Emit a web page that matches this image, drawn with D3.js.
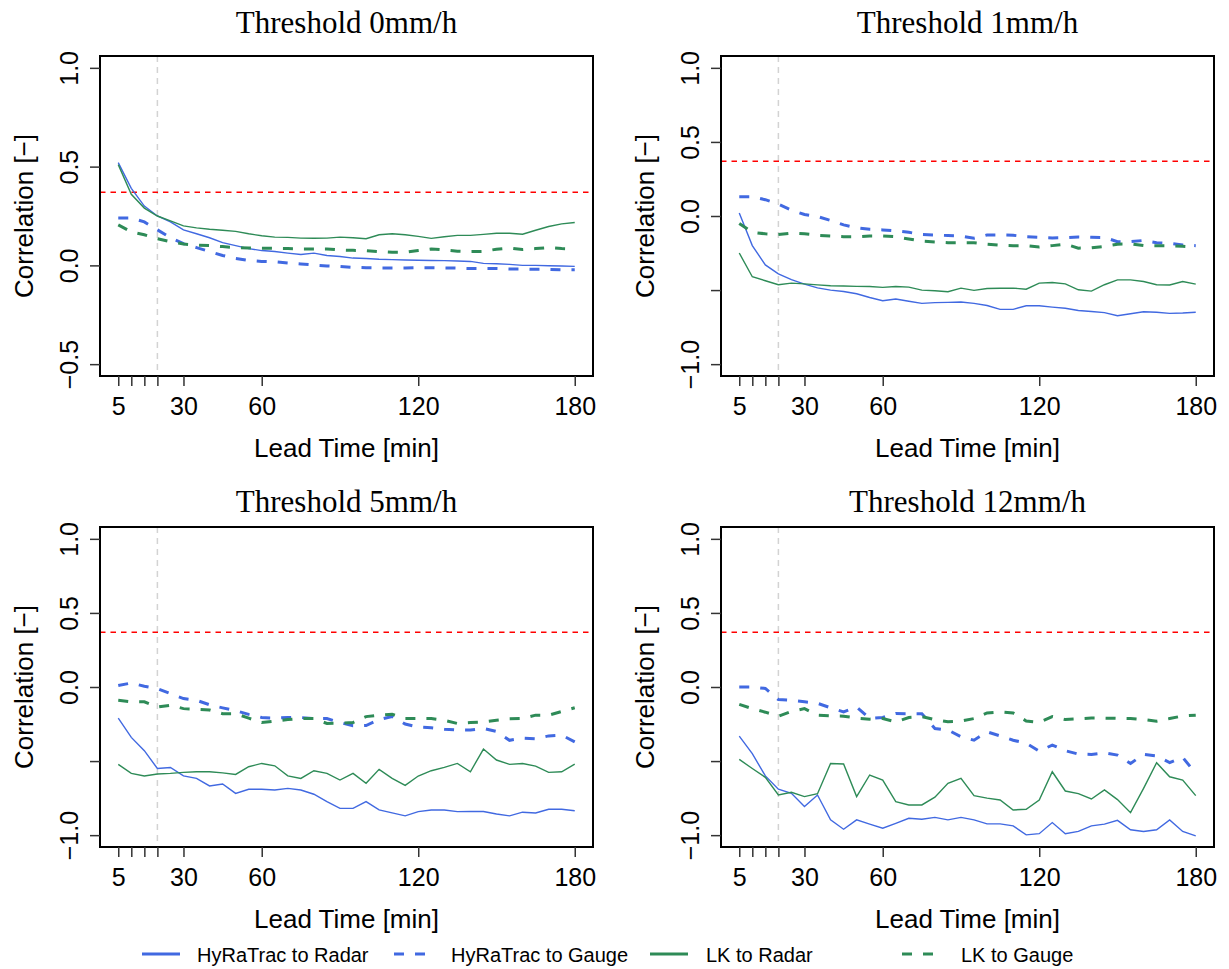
<!DOCTYPE html>
<html>
<head>
<meta charset="utf-8">
<script src="https://cdn.jsdelivr.net/npm/d3@7"></script>
<style>
body { margin: 0; background: #fff; }
svg text { font-family: "Liberation Sans", Arial, sans-serif; fill: #000; }
</style>
</head>
<body>
<div id="chart"></div>
<script>
let w = 1229;
let h = 969;

// lead times in minutes
const leadTimes = [5,10,15,20,25,30,35,40,45,50,55,60,65,70,75,80,85,90,95,100,105,110,115,120,125,130,135,140,145,150,155,160,165,170,175,180];

// threshold 0mm/h
const hyRadar0 = [0.52,0.39,0.30,0.25,0.22,0.18,0.16,0.14,0.115,0.10,0.085,0.075,0.07,0.062,0.055,0.062,0.05,0.045,0.037,0.035,0.031,0.029,0.027,0.026,0.025,0.024,0.022,0.02,0.01,0.008,0.005,0.0,0.0,-0.002,-0.003,-0.005];
const hyGauge0 = [0.24,0.24,0.22,0.18,0.14,0.11,0.09,0.07,0.05,0.035,0.025,0.02,0.018,0.012,0.007,0.002,-0.003,-0.006,-0.01,-0.012,-0.013,-0.013,-0.013,-0.012,-0.012,-0.013,-0.014,-0.016,-0.016,-0.016,-0.018,-0.018,-0.02,-0.02,-0.022,-0.022];
const lkRadar0 = [0.51,0.36,0.29,0.25,0.225,0.20,0.19,0.183,0.178,0.172,0.16,0.15,0.143,0.142,0.138,0.137,0.138,0.143,0.14,0.135,0.155,0.16,0.155,0.147,0.137,0.145,0.152,0.152,0.157,0.163,0.163,0.158,0.178,0.197,0.21,0.217];
const lkGauge0 = [0.205,0.17,0.155,0.135,0.12,0.108,0.103,0.10,0.095,0.09,0.088,0.087,0.086,0.085,0.083,0.083,0.083,0.078,0.076,0.075,0.07,0.066,0.066,0.075,0.083,0.078,0.072,0.07,0.071,0.082,0.088,0.08,0.085,0.09,0.085,0.083];

// threshold 1mm/h
const hyRadar1 = [0.02,-0.2,-0.33,-0.39,-0.43,-0.46,-0.485,-0.5,-0.51,-0.525,-0.55,-0.572,-0.56,-0.575,-0.59,-0.585,-0.583,-0.581,-0.59,-0.604,-0.63,-0.63,-0.606,-0.606,-0.615,-0.623,-0.638,-0.645,-0.652,-0.673,-0.66,-0.646,-0.65,-0.657,-0.655,-0.65];
const hyGauge1 = [0.13,0.13,0.11,0.08,0.04,0.01,-0.004,-0.03,-0.06,-0.08,-0.09,-0.094,-0.1,-0.11,-0.125,-0.128,-0.132,-0.135,-0.15,-0.128,-0.128,-0.13,-0.14,-0.144,-0.148,-0.146,-0.141,-0.143,-0.145,-0.173,-0.173,-0.165,-0.18,-0.184,-0.195,-0.2];
const lkRadar1 = [-0.25,-0.41,-0.437,-0.464,-0.453,-0.458,-0.465,-0.471,-0.473,-0.475,-0.476,-0.482,-0.476,-0.48,-0.5,-0.505,-0.511,-0.487,-0.502,-0.489,-0.488,-0.487,-0.494,-0.453,-0.449,-0.458,-0.498,-0.507,-0.464,-0.431,-0.431,-0.442,-0.464,-0.466,-0.442,-0.46];
const lkGauge1 = [-0.05,-0.11,-0.12,-0.125,-0.115,-0.12,-0.13,-0.135,-0.14,-0.14,-0.135,-0.135,-0.14,-0.155,-0.17,-0.175,-0.18,-0.18,-0.18,-0.19,-0.197,-0.2,-0.2,-0.209,-0.2,-0.19,-0.217,-0.215,-0.205,-0.19,-0.188,-0.2,-0.2,-0.2,-0.205,-0.21];

// threshold 5mm/h
const hyRadar5 = [-0.21,-0.34,-0.43,-0.55,-0.543,-0.6,-0.617,-0.668,-0.655,-0.718,-0.69,-0.69,-0.695,-0.684,-0.695,-0.724,-0.774,-0.819,-0.819,-0.774,-0.83,-0.85,-0.87,-0.841,-0.83,-0.83,-0.841,-0.84,-0.84,-0.857,-0.87,-0.845,-0.85,-0.825,-0.825,-0.835];
const hyGauge5 = [0.01,0.027,0.005,-0.011,-0.045,-0.078,-0.09,-0.12,-0.141,-0.16,-0.185,-0.206,-0.21,-0.206,-0.206,-0.213,-0.213,-0.24,-0.262,-0.26,-0.22,-0.2,-0.25,-0.27,-0.275,-0.285,-0.29,-0.29,-0.28,-0.3,-0.36,-0.345,-0.35,-0.33,-0.325,-0.37];
const lkRadar5 = [-0.522,-0.583,-0.601,-0.587,-0.583,-0.576,-0.572,-0.572,-0.58,-0.59,-0.538,-0.516,-0.532,-0.6,-0.617,-0.565,-0.583,-0.628,-0.583,-0.65,-0.556,-0.617,-0.664,-0.601,-0.565,-0.543,-0.516,-0.572,-0.419,-0.493,-0.522,-0.516,-0.534,-0.576,-0.572,-0.52];
const lkGauge5 = [-0.09,-0.1,-0.1,-0.135,-0.123,-0.146,-0.15,-0.155,-0.18,-0.18,-0.21,-0.24,-0.23,-0.22,-0.213,-0.213,-0.246,-0.245,-0.24,-0.2,-0.19,-0.184,-0.213,-0.213,-0.213,-0.225,-0.246,-0.24,-0.235,-0.224,-0.215,-0.213,-0.19,-0.19,-0.165,-0.14];

// threshold 12mm/h
const hyRadar12 = [-0.332,-0.45,-0.6,-0.69,-0.718,-0.807,-0.729,-0.897,-0.96,-0.897,-0.926,-0.953,-0.92,-0.886,-0.893,-0.88,-0.897,-0.88,-0.897,-0.924,-0.924,-0.937,-0.998,-0.99,-0.915,-0.99,-0.975,-0.937,-0.926,-0.9,-0.964,-0.975,-0.964,-0.897,-0.975,-1.005];
const hyGauge12 = [0.0,0.0,-0.01,-0.085,-0.09,-0.1,-0.11,-0.14,-0.168,-0.135,-0.213,-0.206,-0.179,-0.18,-0.18,-0.28,-0.29,-0.336,-0.359,-0.303,-0.33,-0.359,-0.38,-0.433,-0.392,-0.43,-0.453,-0.455,-0.444,-0.46,-0.516,-0.455,-0.465,-0.51,-0.475,-0.583];
const lkRadar12 = [-0.489,-0.55,-0.61,-0.729,-0.711,-0.74,-0.72,-0.516,-0.52,-0.74,-0.594,-0.628,-0.774,-0.796,-0.796,-0.744,-0.65,-0.617,-0.733,-0.75,-0.763,-0.83,-0.825,-0.763,-0.572,-0.702,-0.72,-0.756,-0.695,-0.76,-0.848,-0.684,-0.511,-0.606,-0.628,-0.733];
const lkGauge12 = [-0.117,-0.146,-0.17,-0.197,-0.165,-0.146,-0.19,-0.195,-0.197,-0.21,-0.217,-0.213,-0.235,-0.206,-0.2,-0.22,-0.235,-0.23,-0.213,-0.175,-0.168,-0.175,-0.229,-0.238,-0.2,-0.22,-0.215,-0.21,-0.21,-0.212,-0.213,-0.22,-0.231,-0.213,-0.195,-0.19];

const seriesNames = ["HyRaTrac to Radar", "HyRaTrac to Gauge", "LK to Radar", "LK to Gauge"];
const seriesColors = ["#4169e1", "#4169e1", "#2e8b57", "#2e8b57"];
const seriesDashed = [false, true, false, true];

const xTicks = [5, 10, 15, 20, 30, 60, 120, 180];
const xTickLabels = ["5", "", "", "", "30", "60", "120", "180"];
const yTicksA = [-0.5, 0, 0.5, 1];
const yTickLabelsA = ["\u22120.5", "0.0", "0.5", "1.0"];
const yTicksB = [-1, -0.5, 0, 0.5, 1];
const yTickLabelsB = ["\u22121.0", "", "0.0", "0.5", "1.0"];

const threshold = 0.37;   // red reference line
const markLead = 20;      // grey vertical line

const panels = [
    {title: "Threshold 0mm/h", left: 100, top: 56, titleY: 33, ylim: [-0.5, 1], yTicks: yTicksA, yLabels: yTickLabelsA, data: [hyRadar0, hyGauge0, lkRadar0, lkGauge0]},
    {title: "Threshold 1mm/h", left: 721, top: 56, titleY: 33, ylim: [-1, 1], yTicks: yTicksB, yLabels: yTickLabelsB, data: [hyRadar1, hyGauge1, lkRadar1, lkGauge1]},
    {title: "Threshold 5mm/h", left: 100, top: 527, titleY: 512, ylim: [-1, 1], yTicks: yTicksB, yLabels: yTickLabelsB, data: [hyRadar5, hyGauge5, lkRadar5, lkGauge5]},
    {title: "Threshold 12mm/h", left: 721, top: 527, titleY: 512, ylim: [-1, 1], yTicks: yTicksB, yLabels: yTickLabelsB, data: [hyRadar12, hyGauge12, lkRadar12, lkGauge12]}
];

const pw = 493;
const ph = 320;

let svg = d3.select("#chart")
    .append("svg")
    .attr("width", w)
    .attr("height", h)
    .style("background", "#fff");

panels.forEach((p, pi) => {
    // R style 4% padding on both ends
    let xPad = (180 - 5) * 0.04;
    let yPad = (p.ylim[1] - p.ylim[0]) * 0.04;

    let xScale = d3.scaleLinear()
        .domain([5 - xPad, 180 + xPad])
        .range([0, pw]);
    let yScale = d3.scaleLinear()
        .domain([p.ylim[0] - yPad, p.ylim[1] + yPad])
        .range([ph, 0]);

    let g = svg.append("g")
        .attr("transform", "translate(" + p.left + "," + p.top + ")");

    g.append("clipPath")
        .attr("id", "clip" + pi)
        .append("rect")
        .attr("width", pw)
        .attr("height", ph);

    let plot = g.append("g").attr("clip-path", "url(#clip" + pi + ")");

    plot.append("line")
        .attr("x1", xScale(markLead)).attr("x2", xScale(markLead))
        .attr("y1", 0).attr("y2", ph)
        .style("stroke", "#d3d3d3")
        .style("stroke-width", 1.5)
        .style("stroke-dasharray", "6,5");

    plot.append("line")
        .attr("x1", 0).attr("x2", pw)
        .attr("y1", yScale(threshold)).attr("y2", yScale(threshold))
        .style("stroke", "#ff0000")
        .style("stroke-width", 1.5)
        .style("stroke-dasharray", "5.5,5");

    let line = d3.line()
        .x((d, i) => xScale(leadTimes[i]))
        .y(d => yScale(d));

    p.data.forEach((values, si) => {
        plot.append("path")
            .datum(values)
            .attr("d", line)
            .style("fill", "none")
            .style("stroke", seriesColors[si])
            .style("stroke-width", seriesDashed[si] ? 3 : 1.4)
            .style("stroke-dasharray", seriesDashed[si] ? "10,11" : null);
    });

    // box
    g.append("rect")
        .attr("width", pw)
        .attr("height", ph)
        .style("fill", "none")
        .style("stroke", "#000")
        .style("stroke-width", 2);

    // axes
    let xAxis = d3.axisBottom(xScale)
        .tickValues(xTicks)
        .tickSize(10)
        .tickFormat((d, i) => xTickLabels[i]);
    let gx = g.append("g")
        .attr("transform", "translate(0," + ph + ")")
        .call(xAxis);
    gx.select(".domain").remove();
    gx.selectAll(".tick line").style("stroke", "#333").style("stroke-width", 1.5);
    gx.selectAll(".tick text")
        .attr("y", 39)
        .attr("dy", null)
        .style("font-size", "25px");

    let yAxis = d3.axisLeft(yScale)
        .tickValues(p.yTicks)
        .tickSize(10)
        .tickFormat((d, i) => p.yLabels[i]);
    let gy = g.append("g").call(yAxis);
    gy.select(".domain").remove();
    gy.selectAll(".tick line").style("stroke", "#333").style("stroke-width", 1.5);
    gy.selectAll(".tick text")
        .attr("x", 0)
        .attr("y", -22)
        .attr("dy", null)
        .attr("transform", "rotate(-90)")
        .attr("text-anchor", "middle")
        .style("font-size", "25px");

    // labels
    g.append("text")
        .attr("x", pw / 2)
        .attr("y", ph + 81)
        .attr("text-anchor", "middle")
        .style("font-size", "26px")
        .text("Lead Time [min]");

    g.append("text")
        .attr("transform", "translate(-67," + (ph / 2) + ") rotate(-90)")
        .attr("text-anchor", "middle")
        .style("font-size", "26px")
        .text("Correlation [\u2212]");

    svg.append("text")
        .attr("x", p.left + pw / 2)
        .attr("y", p.titleY)
        .attr("text-anchor", "middle")
        .style("font-family", "'Liberation Serif', 'DejaVu Serif', serif")
        .style("font-size", "31px")
        .text(p.title);
});

// legend
const legendLineX = [142, 394, 650, 902];
const legendTextX = [197, 451, 706, 961];

let legend = svg.append("g");
seriesNames.forEach((name, i) => {
    legend.append("line")
        .attr("x1", legendLineX[i]).attr("x2", legendLineX[i] + 38)
        .attr("y1", 954).attr("y2", 954)
        .style("stroke", seriesColors[i])
        .style("stroke-width", 3)
        .style("stroke-dasharray", seriesDashed[i] ? "10,11" : null);
    legend.append("text")
        .attr("x", legendTextX[i])
        .attr("y", 962)
        .style("font-size", "20px")
        .text(name);
});
</script>
</body>
</html>
